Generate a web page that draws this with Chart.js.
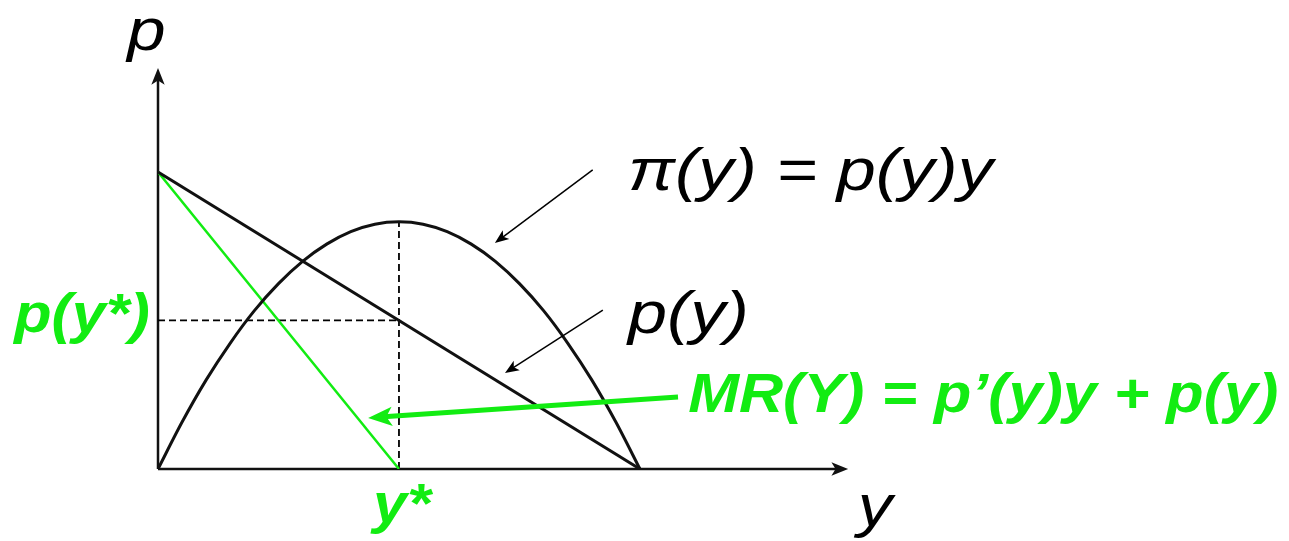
<!DOCTYPE html>
<html>
<head>
<meta charset="utf-8">
<script src="https://cdn.jsdelivr.net/npm/chart.js@4/dist/chart.umd.min.js"></script>
<style>
  html, body { margin: 0; padding: 0; background: #fff; }
  #wrap { width: 1289px; height: 541px; position: relative; }
</style>
</head>
<body>
<div id="wrap"><canvas id="chart_monopolyRevenue"></canvas></div>
<script>
// quantity grid (y) and the values
var quantities = [0, 0.5, 1, 1.5, 2, 2.5, 3, 3.5, 4, 4.5, 5, 5.5, 6, 6.5, 7, 7.5, 8, 8.5, 9, 9.5, 10];
var revenueValues = [0, 1.58, 3.0, 4.24, 5.33, 6.24, 6.99, 7.57, 7.99, 8.24, 8.32, 8.24, 7.99, 7.57, 6.99, 6.24, 5.33, 4.24, 3.0, 1.58, 0];
var demandQty = [0, 10];
var demandPrice = [10, 0];
var mrQty = [0, 5];
var mrValues = [10, 0];
var yStar = 5;
var pAtYStar = 5;
var revenuePeak = 8.32;

var GREEN = '#12ec12';

function pts(xs, ys) {
    return xs.map(function (x, i) { return { x: x, y: ys[i] }; });
}

// text labels, anchored in data units; stretch = horizontal widening of the glyphs
var labels = [
    { text: 'p', x: -0.64, y: 14.11, font: 'italic 60px "Liberation Sans"', color: '#000', align: 'left', stretch: 1.15 },
    { text: 'y', x: 14.52, y: -1.92, font: 'italic 60px "Liberation Sans"', color: '#000', align: 'left', stretch: 1.15 },
    { text: '\u03c0(y) = p(y)y', x: 9.75, y: 9.39, font: 'italic 60px "Liberation Sans"', color: '#000', align: 'left', stretch: 1.17 },
    { text: 'p(y)', x: 9.75, y: 4.58, font: 'italic 60px "Liberation Sans"', color: '#000', align: 'left', stretch: 1.17 },
    { text: 'MR(Y) = p\u2019(y)y + p(y)', x: 11.0, y: 1.92, font: 'italic bold 56px "Liberation Sans"', color: GREEN, align: 'left', stretch: 1.09 },
    { text: 'p(y*)', x: -0.17, y: 4.61, font: 'italic bold 56px "Liberation Sans"', color: GREEN, align: 'right', stretch: 1.09 },
    { text: 'y*', x: 5.06, y: -1.78, font: 'italic bold 56px "Liberation Sans"', color: GREEN, align: 'center', stretch: 1.09 }
];

// pointer arrows: from -> to (tip)
var pointers = [
    { x1: 9.02, y1: 10.07, x2: 6.99, y2: 7.61, color: '#000', width: 1.5, head: 15 },
    { x1: 9.23, y1: 5.35, x2: 7.20, y2: 3.23, color: '#000', width: 1.5, head: 15 },
    { x1: 10.79, y1: 2.42, x2: 4.36, y2: 1.72, color: GREEN, width: 5, head: 26 }
];

var axisTips = { x: 14.32, y: 13.5 };

function arrowHead(ctx, x1, y1, x2, y2, size, color) {
    var a = Math.atan2(y2 - y1, x2 - x1);
    ctx.save();
    ctx.fillStyle = color;
    ctx.beginPath();
    ctx.moveTo(x2, y2);
    ctx.lineTo(x2 - size * Math.cos(a - 0.38), y2 - size * Math.sin(a - 0.38));
    ctx.lineTo(x2 - size * 0.7 * Math.cos(a), y2 - size * 0.7 * Math.sin(a));
    ctx.lineTo(x2 - size * Math.cos(a + 0.38), y2 - size * Math.sin(a + 0.38));
    ctx.closePath();
    ctx.fill();
    ctx.restore();
}

var chart_monopolyRevenue = new Chart(document.getElementById('chart_monopolyRevenue'), {
    type: 'scatter',
    data: {
        datasets: [
            {
                label: 'p(y)',
                data: pts(demandQty, demandPrice),
                showLine: true,
                borderColor: '#111',
                borderWidth: 3,
                pointRadius: 0
            },
            {
                label: 'pi(y)',
                data: pts(quantities, revenueValues),
                showLine: true,
                borderColor: '#111',
                borderWidth: 3,
                tension: 0.3,
                pointRadius: 0
            },
            {
                label: 'MR',
                data: pts(mrQty, mrValues),
                showLine: true,
                borderColor: GREEN,
                borderWidth: 2.5,
                pointRadius: 0
            },
            {
                label: 'vertical guide',
                data: [{ x: yStar, y: 0 }, { x: yStar, y: revenuePeak }],
                showLine: true,
                borderColor: '#000',
                borderWidth: 1.8,
                borderDash: [7, 4],
                pointRadius: 0
            },
            {
                label: 'horizontal guide',
                data: [{ x: 0, y: pAtYStar }, { x: yStar, y: pAtYStar }],
                showLine: true,
                borderColor: '#000',
                borderWidth: 1.8,
                borderDash: [7, 4],
                pointRadius: 0
            }
        ]
    },
    options: {
        animation: false,
        responsive: true,
        maintainAspectRatio: false,
        layout: { padding: { left: 158, right: 437, top: 65, bottom: 72 } },
        plugins: {
            legend: { display: false },
            tooltip: { enabled: false }
        },
        scales: {
            x: { type: 'linear', min: 0, max: 14.4, display: false },
            y: { type: 'linear', min: 0, max: 13.6, display: false }
        }
    },
    plugins: [{
        id: 'diagramExtras',
        beforeDraw: function (chart) {
            var ctx = chart.ctx;
            ctx.save();
            ctx.fillStyle = 'white';
            ctx.fillRect(0, 0, chart.width, chart.height);
            ctx.restore();
        },
        beforeDatasetsDraw: function (chart) {
            var ctx = chart.ctx, sx = chart.scales.x, sy = chart.scales.y;
            var ox = sx.getPixelForValue(0), oy = sy.getPixelForValue(0);
            var tx = sx.getPixelForValue(axisTips.x), ty = sy.getPixelForValue(axisTips.y);
            ctx.save();
            ctx.strokeStyle = '#111';
            ctx.lineWidth = 2.5;
            ctx.beginPath();
            ctx.moveTo(ox, oy); ctx.lineTo(tx - 6, oy);
            ctx.moveTo(ox, oy); ctx.lineTo(ox, ty + 6);
            ctx.stroke();
            ctx.restore();
            arrowHead(ctx, ox, oy, tx, oy, 18, '#111');
            arrowHead(ctx, ox, oy, ox, ty, 18, '#111');
        },
        afterDraw: function (chart) {
            var ctx = chart.ctx, sx = chart.scales.x, sy = chart.scales.y;
            pointers.forEach(function (p) {
                var x1 = sx.getPixelForValue(p.x1), y1 = sy.getPixelForValue(p.y1);
                var x2 = sx.getPixelForValue(p.x2), y2 = sy.getPixelForValue(p.y2);
                var a = Math.atan2(y2 - y1, x2 - x1);
                ctx.save();
                ctx.strokeStyle = p.color;
                ctx.lineWidth = p.width;
                ctx.beginPath();
                ctx.moveTo(x1, y1);
                ctx.lineTo(x2 - p.head * 0.6 * Math.cos(a), y2 - p.head * 0.6 * Math.sin(a));
                ctx.stroke();
                ctx.restore();
                arrowHead(ctx, x1, y1, x2, y2, p.head, p.color);
            });
            labels.forEach(function (l) {
                var px = sx.getPixelForValue(l.x), py = sy.getPixelForValue(l.y);
                ctx.save();
                ctx.translate(px, py);
                ctx.scale(l.stretch, 1);
                ctx.font = l.font;
                ctx.fillStyle = l.color;
                ctx.textAlign = l.align;
                ctx.textBaseline = 'alphabetic';
                ctx.fillText(l.text, 0, 0);
                ctx.restore();
            });
        }
    }]
});
</script>
</body>
</html>
